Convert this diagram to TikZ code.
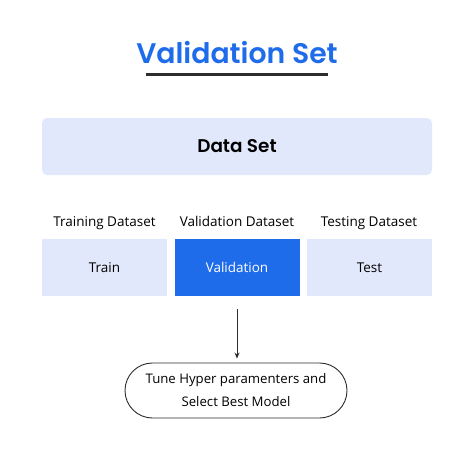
\documentclass[tikz,border=0pt]{standalone}
\usepackage{fontspec}
\setmainfont{Open Sans}
\newfontfamily\titlefont{Poppins SemiBold}
\usetikzlibrary{arrows.meta,positioning}
\definecolor{ColorBlue}{RGB}{31,108,235}
\definecolor{ColorPale}{RGB}{226,232,251}
\definecolor{ColorLine}{RGB}{45,45,45}

\begin{document}
\begin{tikzpicture}[x=1pt,y=-1pt,
    part/.style={minimum width=125pt, minimum height=57pt, inner sep=0pt, fill=ColorPale, font=\fontsize{13.5}{15}\selectfont},
    tag/.style={anchor=base, font=\fontsize{13.5}{15}\selectfont}]
    \useasboundingbox[fill=white] (0,0) rectangle (474,474);
    %Title
    \node[anchor=base, text=ColorBlue, font=\titlefont\fontsize{28.3}{34}\selectfont] (title) at (237,63) {Validation Set};
    \draw[line width=3pt, ColorLine] (146,74)--(328,74);
    %Data set
    \node[minimum width=390pt, minimum height=57pt, rounded corners=5pt, fill=ColorPale,
        font=\titlefont\fontsize{18.4}{22}\selectfont] (data) at (237,146.5) {Data Set};
    %Parts
    \node[tag] (trainlab) at (104.5,226) {Training Dataset};
    \node[tag] (vallab) at (237,226) {Validation Dataset};
    \node[tag] (testlab) at (369,226) {Testing Dataset};
    \node[part] (train) at (104.5,267.5) {Train};
    \node[part, fill=ColorBlue, text=white] (val) at (237,267.5) {Validation};
    \node[part] (test) at (369.5,267.5) {Test};
    %Tune
    \node[draw=ColorLine, line width=0.9pt, minimum width=222pt, minimum height=55pt, rounded corners=27.5pt,
        align=center, font=\fontsize{13.2}{23}\selectfont] (tune) at (236,390.5) {Tune Hyper paramenters and\\Select Best Model};
    \coordinate (from) at (237,309);
    \draw[ColorLine, line width=0.9pt, -{Stealth[length=6pt,width=5pt]}, shorten >=4pt] (from) -- (from |- tune.north);
\end{tikzpicture}
\end{document}
